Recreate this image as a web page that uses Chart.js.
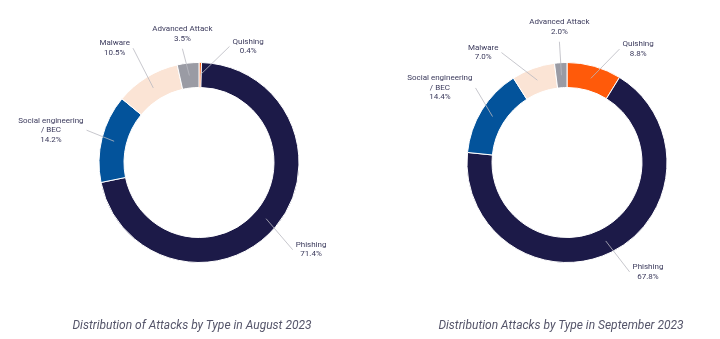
<!DOCTYPE html>
<html>
<head>
<meta charset="utf-8">
<script src="https://cdn.jsdelivr.net/npm/chart.js@4/dist/chart.umd.min.js"></script>
<style>
  html, body { margin: 0; padding: 0; background: #fff; }
  body { width: 720px; height: 339px; position: relative; overflow: hidden; }
  .panel { position: absolute; top: 0; width: 360px; height: 339px; }
  .caption {
    position: absolute; top: 318px; width: 320px; text-align: center;
    font: italic 12px Roboto, sans-serif; color: #55556a; white-space: nowrap;
  }
</style>
</head>
<body>
<div class="panel" style="left:0"><canvas id="augChart" width="360" height="339"></canvas></div>
<div class="panel" style="left:360px"><canvas id="sepChart" width="360" height="339"></canvas></div>
<div class="caption" style="left:32px">Distribution of Attacks by Type in August 2023</div>
<div class="caption" style="left:401px">Distribution Attacks by Type in September 2023</div>

<script>
/* ---------- data ---------- */
const attackTypes = ['Quishing', 'Phishing', 'Social engineering\n/ BEC', 'Malware', 'Advanced Attack'];
const augustShares = [0.4, 71.4, 14.2, 10.5, 3.5];
const septemberShares = [8.8, 67.8, 14.4, 7.0, 2.0];
const sliceColors = ['#ff5a0a', '#1c1a48', '#03539b', '#fbe4d5', '#9a9ba4'];

// callout lines + labels drawn outside the ring
const calloutPlugin = {
    id: 'callouts',
    afterDatasetsDraw(chart, args, opts) {
        const ctx = chart.ctx;
        const meta = chart.getDatasetMeta(0);
        const values = chart.data.datasets[0].data;
        const lh = 9.5;
        ctx.save();
        ctx.font = '8px Roboto, sans-serif';
        ctx.textAlign = 'center';
        ctx.textBaseline = 'middle';
        meta.data.forEach((arc, i) => {
            const p = arc.getProps(['x', 'y', 'startAngle', 'endAngle', 'innerRadius', 'outerRadius']);
            const mid = (p.startAngle + p.endAngle) / 2;
            const out = mid + (opts.nudge[i] || 0) * Math.PI / 180;
            const r1 = (p.innerRadius + p.outerRadius) / 2;
            const r2 = p.outerRadius + opts.reach[i];
            const sx = p.x + Math.cos(mid) * r1, sy = p.y + Math.sin(mid) * r1;
            const ex = p.x + Math.cos(out) * r2, ey = p.y + Math.sin(out) * r2;

            ctx.strokeStyle = '#b9b9c0';
            ctx.lineWidth = 0.8;
            ctx.beginPath();
            ctx.moveTo(sx, sy);
            ctx.lineTo(ex, ey);
            ctx.stroke();

            const lines = chart.data.labels[i].split('\n').concat(values[i].toFixed(1) + '%');
            const w = Math.max(...lines.map(t => ctx.measureText(t).width));
            const dir = Math.cos(out);
            let cx, top;
            if (Math.abs(dir) < 0.2) {
                cx = ex;
                top = ey - 5 - lines.length * lh;
            } else {
                cx = ex + Math.sign(dir) * (3 + w / 2);
                top = ey - lines.length * lh / 2;
            }
            ctx.fillStyle = '#3b3a5c';
            lines.forEach((t, k) => ctx.fillText(t, cx, top + lh * (k + 0.5)));
        });
        ctx.restore();
    }
};

function makeDoughnut(id, shares, pad, nudge, reach) {
    return new Chart(document.getElementById(id), {
        type: 'doughnut',
        data: {
            labels: attackTypes,
            datasets: [{
                data: shares,
                backgroundColor: sliceColors,
                borderColor: '#ffffff',
                borderWidth: 1
            }]
        },
        options: {
            responsive: false,
            animation: false,
            cutout: '75%',
            layout: { padding: pad },
            events: [],
            plugins: {
                legend: { display: false },
                tooltip: { enabled: false },
                callouts: { nudge: nudge, reach: reach }
            }
        },
        plugins: [calloutPlugin]
    });
}

makeDoughnut('augChart', augustShares, { left: 98, right: 60, top: 62, bottom: 76 },
    [14, 3, 2, 1.5, -2], [20, 28, 17, 32, 15]);
makeDoughnut('sepChart', septemberShares, { left: 106, right: 52, top: 62, bottom: 76 },
    [9, -3.5, 7.5, -11, 0], [25, 26, 18, 28, 21]);
</script>
</body>
</html>
